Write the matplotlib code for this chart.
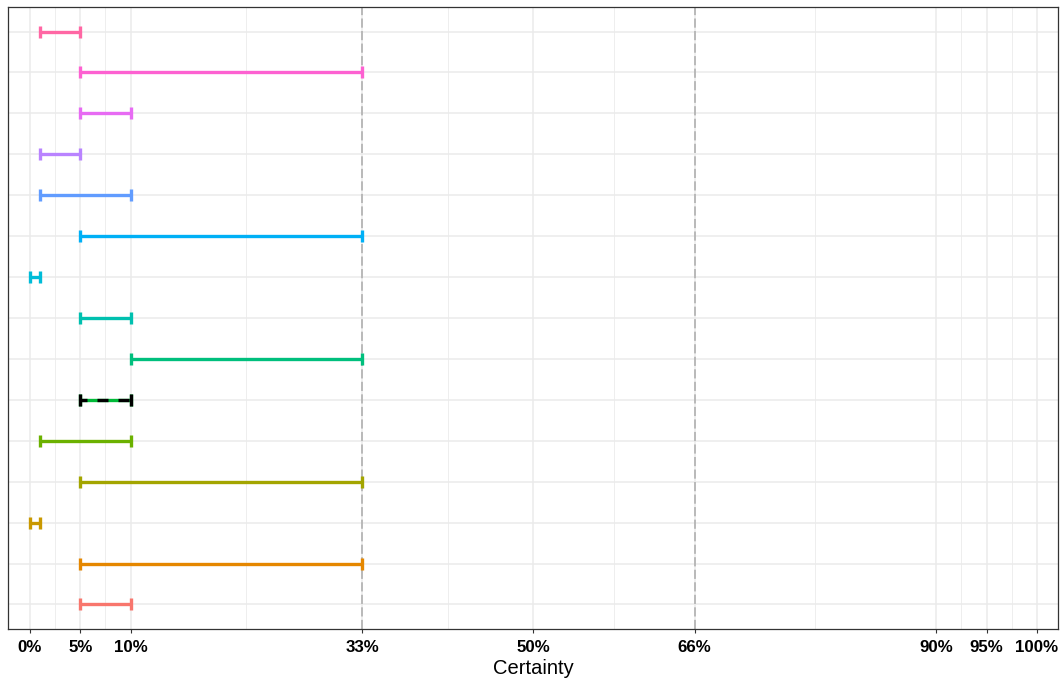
import matplotlib
matplotlib.use("Agg")
import matplotlib.pyplot as plt
import numpy as np

# Data (rows from bottom to top)
rows = list(range(1, 16))
lower = [5, 5, 0, 5, 1, 5, 10, 5, 0, 5, 1, 1, 5, 5, 1]
upper = [10, 33, 1, 33, 10, 10, 33, 10, 1, 33, 10, 5, 10, 33, 5]
colors = ["#F8766D", "#E58700", "#C99800", "#A3A500", "#6BB100", "#00BA38",
          "#00BF7D", "#00C0AF", "#00BCD8", "#00B0F6", "#619CFF", "#B983FF",
          "#E76BF3", "#FD61D1", "#FF67A4"]
highlight_row = 6
x_breaks = [0, 5, 10, 33, 50, 66, 90, 95, 100]
x_labels = ["0%", "5%", "10%", "33%", "50%", "66%", "90%", "95%", "100%"]
ref_lines = [33, 66]

plt.rcParams['font.family'] = ['Liberation Sans', 'DejaVu Sans']

fig = plt.figure(figsize=(10.62, 6.84), dpi=100)
ax = fig.add_axes([8/1062, 1-629/684, 1050/1062, 622/684])

xmin, xmax = -2.18, 102.09
ax.set_xlim(xmin, xmax)
ax.set_ylim(0.4, 15.6)

# grid
minor = [(a + b) / 2 for a, b in zip(x_breaks[:-1], x_breaks[1:])]
for m in minor:
    ax.axvline(m, color="#EBEBEB", lw=0.6, zorder=0)
for b in x_breaks:
    ax.axvline(b, color="#EBEBEB", lw=1.1, zorder=0)
for r in rows:
    ax.axhline(r, color="#EBEBEB", lw=1.1, zorder=0)

for v in ref_lines:
    ax.axvline(v, color="#AAAAAA", lw=1.1, linestyle=(0, (6, 2.2)), zorder=1)

lw = 2.4
cap = 4.0
for r, lo, hi, c in zip(rows, lower, upper, colors):
    mid = (lo + hi) / 2
    half = (hi - lo) / 2
    ax.errorbar([mid], [r], xerr=[[half], [half]], fmt='none', ecolor=c,
                elinewidth=lw, capsize=cap, capthick=lw, zorder=3)
    if r == highlight_row:
        eb = ax.errorbar([mid], [r], xerr=[[half], [half]], fmt='none',
                         ecolor="black", elinewidth=lw, capsize=cap,
                         capthick=lw, zorder=4)
        eb[2][0].set_linestyle((1.2, (3.3, 3.0)))

ax.set_xticks(x_breaks)
ax.set_xticklabels(x_labels, fontsize=12.2, fontweight='bold', color='black')
ax.set_xticks([], minor=True)
ax.set_yticks([])
ax.tick_params(axis='x', length=3, width=0.8, color="#333333", pad=5)
ax.set_xlabel("Certainty", fontsize=14.5, color='black', labelpad=3)

for s in ax.spines.values():
    s.set_color("#333333")
    s.set_linewidth(0.9)

fig.savefig("out.png", dpi=100)
